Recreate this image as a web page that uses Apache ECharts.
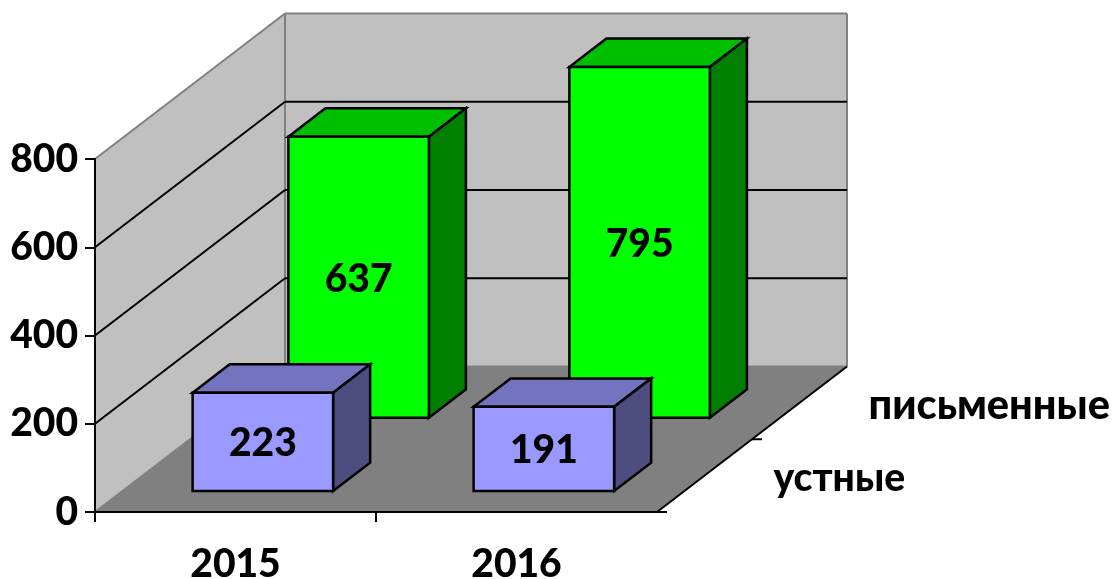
<!DOCTYPE html>
<html>
<head>
<meta charset="utf-8">
<style>
  html, body { margin: 0; padding: 0; background: #fff; }
  #chart { width: 1114px; height: 579px; }
</style>
<script src="https://cdn.jsdelivr.net/npm/echarts@6/dist/echarts.min.js"></script>
</head>
<body>
<div id="chart"></div>
<script>
  const categories = ['2015', '2016']
  const depthNames = ['устные', 'письменные']
  const oralValues = [223, 191]
  const writtenValues = [637, 795]
  const yTicks = [0, 200, 400, 600, 800]

  const fontFamily = 'Lato, "Noto Sans", sans-serif'
  const fontSize = 39
  const fontWeight = 900

  // how far the back of the box is shifted from the front plane
  const depthX = 190
  const depthY = -145.5
  const barDepth = 0.195
  const rowStart = [0.144, 0.648]

  const chart = echarts.init(document.getElementById('chart'))

  const shift = (p, t) => [p[0] + depthX * t, p[1] + depthY * t]

  const poly = (points, fill, stroke, width) => ({
    type: 'polygon',
    shape: { points },
    style: { fill, stroke: stroke || 'none', lineWidth: width || 0, lineJoin: 'miter' }
  })

  const line = (a, b, color) => ({
    type: 'line',
    shape: { x1: a[0], y1: a[1], x2: b[0], y2: b[1] },
    style: { stroke: color, lineWidth: 2 }
  })

  const label = (text, x, y, align, size) => ({
    type: 'text',
    style: {
      text,
      x,
      y,
      align: align || 'center',
      verticalAlign: 'middle',
      fill: '#000',
      fontFamily,
      fontSize: size || fontSize,
      fontWeight
    }
  })

  // walls, floor, gridlines and the depth axis
  const renderFrame = (params, api) => {
    const band = api.size([1, 0])[0]
    const left = api.coord([0, 0])[0] - band / 2
    const right = left + band * categories.length
    const y0 = api.coord([0, 0])[1]
    const yTop = api.coord([0, yTicks[yTicks.length - 1]])[1]

    const fl = [left, y0]
    const fr = [right, y0]
    const tl = [left, yTop]
    const bl = shift(fl, 1)
    const br = shift(fr, 1)
    const btl = shift(tl, 1)
    const btr = [br[0], btl[1]]

    const children = [
      poly([fl, tl, btl, bl], '#C0C0C0'),
      poly([bl, btl, btr, br], '#C0C0C0'),
      poly([fl, bl, br, fr], '#808080'),
      line(tl, btl, '#808080'),
      line(btl, btr, '#808080'),
      line(btl, bl, '#808080'),
      line(btr, br, '#808080'),
      line(bl, br, '#808080'),
      line(fl, bl, '#808080'),
      line(fr, br, '#000')
    ]

    yTicks.slice(1, -1).forEach((v) => {
      const p = api.coord([0, v])
      const a = [left, p[1]]
      const b = shift(a, 1)
      children.push(line(a, b, '#000'))
      children.push(line(b, [br[0], b[1]], '#000'))
    })

    // ticks under the category axis, the far end has none
    categories.forEach((c, i) => {
      const x = left + band * i
      children.push(line([x, y0], [x, y0 + 10], '#000'))
    })

    // ticks and names of the depth axis
    depthNames.forEach((name, i) => {
      const t = shift(fr, i / depthNames.length)
      children.push(line(t, [t[0] + 10, t[1]], '#000'))
      const c = shift(fr, (i + 0.5) / depthNames.length)
      // the longer name runs wider in the reference than Lato does
      children.push(label(name, c[0] + 69, c[1] + 3, 'left', i === 1 ? 41.5 : fontSize))
    })

    return { type: 'group', children }
  }

  const renderBar = (row, colors) => (params, api) => {
    const i = api.value(0)
    const v = api.value(1)
    const w = api.size([1, 0])[0] * 0.5
    const base = api.coord([i, 0])
    const top = api.coord([i, v])
    const t0 = rowStart[row]
    const t1 = t0 + barDepth

    const a = shift([base[0] - w / 2, top[1]], t0)
    const b = shift([base[0] + w / 2, top[1]], t0)
    const c = shift([base[0] + w / 2, base[1]], t0)
    const d = shift([base[0] - w / 2, base[1]], t0)
    const a2 = shift([base[0] - w / 2, top[1]], t1)
    const b2 = shift([base[0] + w / 2, top[1]], t1)
    const c2 = shift([base[0] + w / 2, base[1]], t1)

    return {
      type: 'group',
      children: [
        poly([a, b, b2, a2], colors[1], '#000', 2.5),
        poly([b, b2, c2, c], colors[2], '#000', 2.5),
        poly([a, b, c, d], colors[0], '#000', 2.5),
        label(String(v), (a[0] + b[0]) / 2, (a[1] + d[1]) / 2 + 2)
      ]
    }
  }

  chart.setOption({
    animation: false,
    backgroundColor: '#fff',
    grid: { left: 95, right: 457, top: 159, bottom: 67, outerBoundsMode: 'none' },
    xAxis: {
      type: 'category',
      data: categories,
      z: 5,
      axisLine: { lineStyle: { color: '#000', width: 2 } },
      axisTick: { show: false },
      axisLabel: { color: '#000', fontFamily, fontSize, fontWeight, margin: 33 }
    },
    yAxis: {
      type: 'value',
      min: 0,
      max: 800,
      interval: 200,
      z: 5,
      axisLine: { show: true, lineStyle: { color: '#000', width: 2 } },
      axisTick: { show: true, length: 10, lineStyle: { color: '#000', width: 2 } },
      splitLine: { show: false },
      axisLabel: { color: '#000', fontFamily, fontSize, fontWeight, margin: 17, padding: [4, 0, 0, 0] }
    },
    series: [
      {
        type: 'custom',
        coordinateSystem: 'cartesian2d',
        clip: false,
        silent: true,
        data: [[0, 0]],
        encode: { x: 0, y: 1 },
        renderItem: renderFrame
      },
      {
        name: depthNames[1],
        type: 'custom',
        coordinateSystem: 'cartesian2d',
        clip: false,
        data: writtenValues.map((v, i) => [i, v]),
        encode: { x: 0, y: 1 },
        renderItem: renderBar(1, ['#00FF00', '#00BF00', '#007F00'])
      },
      {
        name: depthNames[0],
        type: 'custom',
        coordinateSystem: 'cartesian2d',
        clip: false,
        data: oralValues.map((v, i) => [i, v]),
        encode: { x: 0, y: 1 },
        renderItem: renderBar(0, ['#9999FF', '#7373BF', '#4D4D80'])
      }
    ]
  })
</script>
</body>
</html>
